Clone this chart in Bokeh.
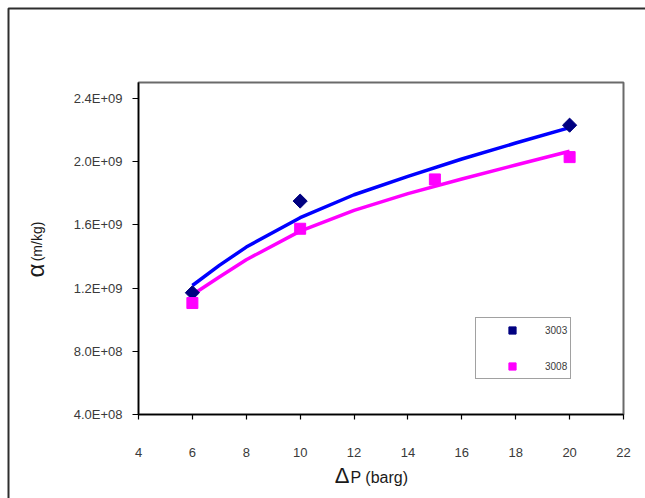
import math

from bokeh.embed import file_html
from bokeh.models import FixedTicker, Label, Legend, LegendItem, Range1d
from bokeh.plotting import figure
from bokeh.resources import INLINE

# Measured specific cake resistance for two runs
dp_3003 = [6, 10, 20]
alpha_3003 = [1.17e9, 1.75e9, 2.23e9]

dp_3008 = [6, 10, 15, 20]
alpha_3008 = [1.105e9, 1.575e9, 1.887e9, 2.028e9]

# Trend curves through each run
fit_dp = [6, 7, 8, 10, 12, 14, 16, 18, 20]
fit_3003 = [1.216e9, 1.343e9, 1.459e9, 1.645e9, 1.790e9, 1.906e9, 2.016e9, 2.117e9, 2.215e9]
fit_3008 = [1.157e9, 1.270e9, 1.379e9, 1.560e9, 1.691e9, 1.797e9, 1.890e9, 1.978e9, 2.065e9]

x_ticks = [4, 6, 8, 10, 12, 14, 16, 18, 20, 22]
y_ticks = [4e8, 8e8, 1.2e9, 1.6e9, 2.0e9, 2.4e9]
y_tick_labels = ["4.0E+08", "8.0E+08", "1.2E+09", "1.6E+09", "2.0E+09", "2.4E+09"]

FONT = "Liberation Sans"
TICK_COLOR = "#3a3a3a"

X_START, X_END = 4, 22
Y_START, Y_END = 4e8, 2.5e9
W, H = 645, 498
ML, MR, MT, MB = 138, 22, 82, 84

p = figure(
    width=W, height=H,
    x_range=Range1d(X_START, X_END), y_range=Range1d(Y_START, Y_END),
    output_backend="svg", toolbar_location=None,
    min_border_left=ML, min_border_right=MR,
    min_border_top=MT, min_border_bottom=MB,
)
p.background_fill_color = "white"
p.border_fill_color = "white"
p.grid.visible = False
p.outline_line_color = "#6a6a6a"
p.outline_line_width = 2

for ax in (p.xaxis[0], p.yaxis[0]):
    ax.axis_line_color = "black"
    ax.axis_line_width = 1.5
    ax.major_tick_line_color = "black"
    ax.major_tick_line_width = 1.2
    ax.major_tick_in = 0
    ax.minor_tick_line_color = None
    ax.major_label_text_font = FONT
    ax.major_label_text_font_size = "13px"
    ax.major_label_text_color = TICK_COLOR

p.xaxis.ticker = FixedTicker(ticks=x_ticks)
p.xaxis.major_tick_out = 5
p.xaxis.major_label_standoff = 28

p.yaxis.ticker = FixedTicker(ticks=y_ticks)
p.yaxis.major_label_overrides = {t: s for t, s in zip(y_ticks, y_tick_labels)}
p.yaxis.major_tick_out = 6
p.yaxis.major_label_standoff = 10

# trend lines
p.line(fit_dp, fit_3003, line_color="#0000ff", line_width=3.5)
p.line(fit_dp, fit_3008, line_color="#ff00ff", line_width=3.5)

# measured points
r_3003 = p.scatter(dp_3003, alpha_3003, marker="square", angle=math.pi / 4,
                   size=10, fill_color="#000080", line_color="#000080")
r_3008 = p.scatter(dp_3008, alpha_3008, marker="square",
                   size=11, fill_color="#ff00ff", line_color="#ff00ff")

legend = Legend(
    items=[LegendItem(label="3003", renderers=[r_3003]),
           LegendItem(label="3008", renderers=[r_3008])],
    location=(337, 35), margin=0, padding=3, spacing=18,
    glyph_width=66, glyph_height=18, label_height=18, label_standoff=0,
    label_text_font=FONT, label_text_font_size="10px", label_text_color=TICK_COLOR,
    border_line_color="#444444", border_line_width=1.5,
    background_fill_color="white", background_fill_alpha=1,
)
p.add_layout(legend)

# Transparent page-sized layer on top of the chart for the axis titles and the
# chart-area border; its ranges are page pixels (y downwards).
ov = figure(
    width=W, height=H, x_range=Range1d(0, W), y_range=Range1d(H, 0),
    x_axis_location=None, y_axis_location=None,
    output_backend="svg", toolbar_location=None, min_border=0,
)
ov.grid.visible = False
ov.outline_line_color = None
ov.background_fill_alpha = 0
ov.border_fill_alpha = 0
ov.styles = {"position": "absolute", "left": "0px", "top": "0px", "pointer-events": "none"}

ov.line([8, 8, W], [H, 8, 8], line_color="#2e2e2e", line_width=2)


def add_text(px, py, text, size, align="center", angle=0.0):
    ov.add_layout(Label(x=px, y=py, text=text, angle=angle,
                        text_font=FONT, text_font_size=size,
                        text_align=align, text_baseline="middle",
                        text_color="#1a1a1a"))


add_text(35, 270, "α", "24px", angle=math.pi / 2)
add_text(36, 241, "(m/kg)", "14px", angle=math.pi / 2)
add_text(349, 475, "Δ", "22px", align="right")
add_text(350, 477, "P (barg)", "16px", align="left")

html = file_html([p, ov], INLINE)
html = html.replace("</head>", "<style>html, body { overflow: hidden; }</style></head>", 1)
open("out.html", "w").write(html)
